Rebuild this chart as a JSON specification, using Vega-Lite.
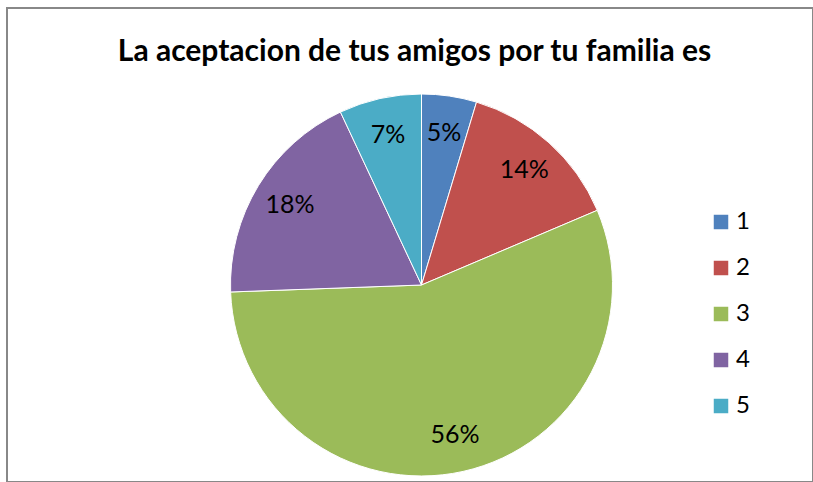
{
  "$schema": "https://vega.github.io/schema/vega-lite/v6.json",
  "width": 806,
  "height": 474,
  "autosize": {"type": "none"},
  "padding": {"left": 7, "top": 8, "right": 0, "bottom": 0},
  "background": "white",
  "view": {"stroke": "#888888", "strokeWidth": 2},
  "config": {"view": {"stroke": "#888888", "strokeWidth": 2}, "font": "Lato"},
  "title": {
    "text": "La aceptacion de tus amigos por tu familia es",
    "font": "Lato",
    "fontSize": 30,
    "fontWeight": "bold",
    "color": "#000000",
    "anchor": "middle",
    "offset": -59,
    "dx": 4.5
  },
  "data": {
    "values": [
      {"categoria": "1", "cantidad": 2, "porcentaje": "5%"},
      {"categoria": "2", "cantidad": 6, "porcentaje": "14%"},
      {"categoria": "3", "cantidad": 24, "porcentaje": "56%"},
      {"categoria": "4", "cantidad": 8, "porcentaje": "18%"},
      {"categoria": "5", "cantidad": 3, "porcentaje": "7%"}
    ]
  },
  "encoding": {
    "theta": {"field": "cantidad", "type": "quantitative", "stack": true},
    "order": {"field": "categoria", "type": "ordinal"}
  },
  "layer": [
    {
      "mark": {"type": "arc", "outerRadius": 191, "stroke": "white", "strokeWidth": 1, "x": {"expr": "width / 2 + 11.5"}, "y": {"expr": "height / 2 + 40"}},
      "encoding": {
        "color": {
          "field": "categoria",
          "type": "nominal",
          "scale": {"domain": ["1", "2", "3", "4", "5"], "range": ["#4F81BD", "#C0504D", "#9BBB59", "#8064A2", "#4BACC6"]},
          "legend": {
            "orient": "none",
            "legendX": 702,
            "legendY": 202,
            "title": null,
            "symbolType": "square",
            "symbolSize": 210,
            "symbolStrokeWidth": 0,
            "labelFontSize": 24,
            "labelFont": "Lato",
            "labelColor": "#000000",
            "rowPadding": 22,
            "labelOffset": 3
          }
        }
      }
    },
    {
      "mark": {"type": "text", "radius": 154, "fontSize": 25, "font": "Lato", "color": "#000000", "x": {"expr": "width / 2 + 11.5"}, "y": {"expr": "height / 2 + 40"}},
      "encoding": {
        "text": {"field": "porcentaje", "type": "nominal"}
      }
    }
  ]
}
